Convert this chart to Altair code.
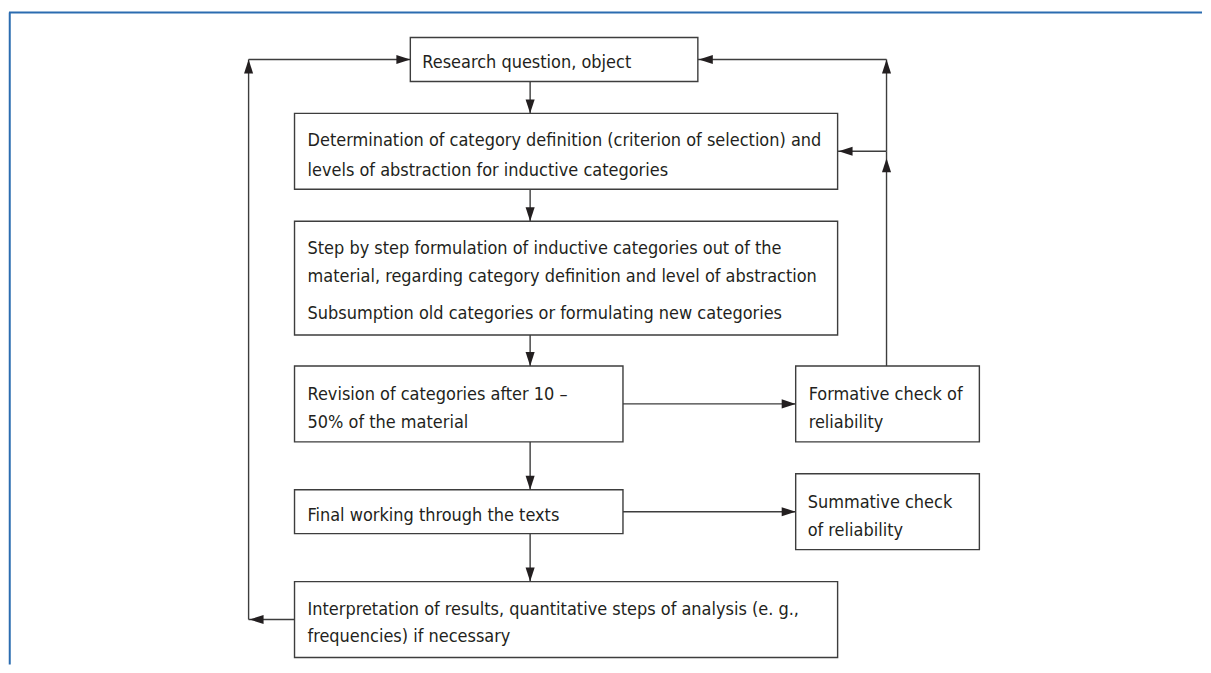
import altair as alt
import pandas as pd

# ---- boxes (page pixel coordinates) ----
box_names = ["research", "definition", "formulation", "revision",
             "formative", "final", "summative", "interpretation"]
box_x1 = [410, 294, 294, 294, 796, 294, 796, 294]
box_x2 = [698, 838, 838, 623, 980, 623, 980, 838]
box_y1 = [37, 113, 221, 366, 366, 490, 474, 582]
box_y2 = [81, 189, 335, 442, 442, 534, 550, 658]

# ---- text lines ----
text_lines = [
    "Research question, object",
    "Determination of category definition (criterion of selection) and",
    "levels of abstraction for inductive categories",
    "Step by step formulation of inductive categories out of the",
    "material, regarding category definition and level of abstraction",
    "Subsumption old categories or formulating new categories",
    "Revision of categories after 10 \u2013",
    "50% of the material",
    "Formative check of",
    "reliability",
    "Final working through the texts",
    "Summative check",
    "of reliability",
    "Interpretation of results, quantitative steps of analysis (e. g.,",
    "frequencies) if necessary",
]
text_x = [422, 307, 307, 307, 307, 307, 307, 307, 809, 809, 307, 808, 808, 307, 307]
text_y = [68, 145.5, 175.5, 254, 282, 319, 400, 428.5, 400, 428, 521.5, 508, 536.5, 615, 643]

# ---- connector segments ----
seg_x1 = [530, 530, 530, 530, 530, 623, 623, 887, 887, 887, 887, 294, 248, 248]
seg_y1 = [81, 189, 335, 442, 534, 404, 512, 366, 151, 151, 59, 620, 620, 59]
seg_x2 = [530, 530, 530, 530, 530, 796, 796, 887, 887, 838, 698, 248, 248, 410]
seg_y2 = [113, 221, 366, 490, 582, 404, 512, 151, 59, 151, 59, 620, 59, 59]

# ---- arrow heads (tip position and direction) ----
tip_x = [530, 530, 530, 530, 530, 796, 796, 887, 887, 839, 699, 249, 248, 410]
tip_y = [113, 221, 366, 490, 582, 404, 512, 158, 59, 151, 59, 620, 59, 59]
tip_dir = ["down", "down", "down", "down", "down", "right", "right", "up", "up",
           "left", "left", "left", "up", "right"]

# ---- outer frame ----
frame_x1 = [8, 8.75]
frame_y1 = [12, 12]
frame_x2 = [1203, 8.75]
frame_y2 = [12, 665]

boxes = pd.DataFrame({"name": box_names, "x1": box_x1, "x2": box_x2,
                      "y1": box_y1, "y2": box_y2})
texts = pd.DataFrame({"t": text_lines, "x": text_x, "y": text_y})
segs = pd.DataFrame({"x1": seg_x1, "y1": seg_y1, "x2": seg_x2, "y2": seg_y2})
frame = pd.DataFrame({"x1": frame_x1, "y1": frame_y1, "x2": frame_x2, "y2": frame_y2})

L = 14  # arrow head length
off = {"down": (0, -L / 2), "up": (0, L / 2), "left": (L / 2, 0), "right": (-L / 2, 0)}
heads = pd.DataFrame({"tx": tip_x, "ty": tip_y, "dir": tip_dir})
heads["cx"] = [x + off[d][0] for x, d in zip(heads.tx, heads.dir)]
heads["cy"] = [y + off[d][1] for y, d in zip(heads.ty, heads.dir)]

W, H = 1195, 657
xs = alt.Scale(domain=[8, 8 + W], nice=False, zero=False)
ys = alt.Scale(domain=[8, 8 + H], nice=False, zero=False, reverse=True)

LINE = "#3d3d3d"
INK = "#231f20"
FONT = "DejaVu Sans Condensed"

frame_layer = alt.Chart(frame).mark_rule(color="#2b6cb0", strokeWidth=2).encode(
    x=alt.X("x1:Q", scale=xs, axis=None), x2="x2:Q",
    y=alt.Y("y1:Q", scale=ys, axis=None), y2="y2:Q")

seg_layer = alt.Chart(segs).mark_rule(color=LINE, strokeWidth=1.4).encode(
    x=alt.X("x1:Q", scale=xs, axis=None), x2="x2:Q",
    y=alt.Y("y1:Q", scale=ys, axis=None), y2="y2:Q")

box_layer = alt.Chart(boxes).mark_rect(fill="white", stroke=LINE, strokeWidth=1.4).encode(
    x=alt.X("x1:Q", scale=xs, axis=None), x2="x2:Q",
    y=alt.Y("y1:Q", scale=ys, axis=None), y2="y2:Q")

hw = 0.65
head_layer = alt.Chart(heads).mark_point(filled=True, size=L * L, opacity=1,
                                         color=INK, strokeWidth=0).encode(
    x=alt.X("cx:Q", scale=xs, axis=None),
    y=alt.Y("cy:Q", scale=ys, axis=None),
    shape=alt.Shape("dir:N", legend=None, scale=alt.Scale(
        domain=["down", "up", "left", "right"],
        range=[f"M-{hw},-1L{hw},-1L0,1Z", f"M-{hw},1L{hw},1L0,-1Z",
               f"M1,-{hw}L1,{hw}L-1,0Z", f"M-1,-{hw}L-1,{hw}L1,0Z"])))

text_layer = alt.Chart(texts).mark_text(align="left", baseline="alphabetic",
                                        font=FONT, fontSize=18, color=INK).encode(
    x=alt.X("x:Q", scale=xs, axis=None),
    y=alt.Y("y:Q", scale=ys, axis=None),
    text="t:N")

chart = alt.layer(frame_layer, seg_layer, box_layer, head_layer, text_layer).properties(
    width=W, height=H, padding=0, background="white"
).configure_view(stroke=None)

chart.save("out.html", embed_options={"renderer": "svg", "actions": False})
